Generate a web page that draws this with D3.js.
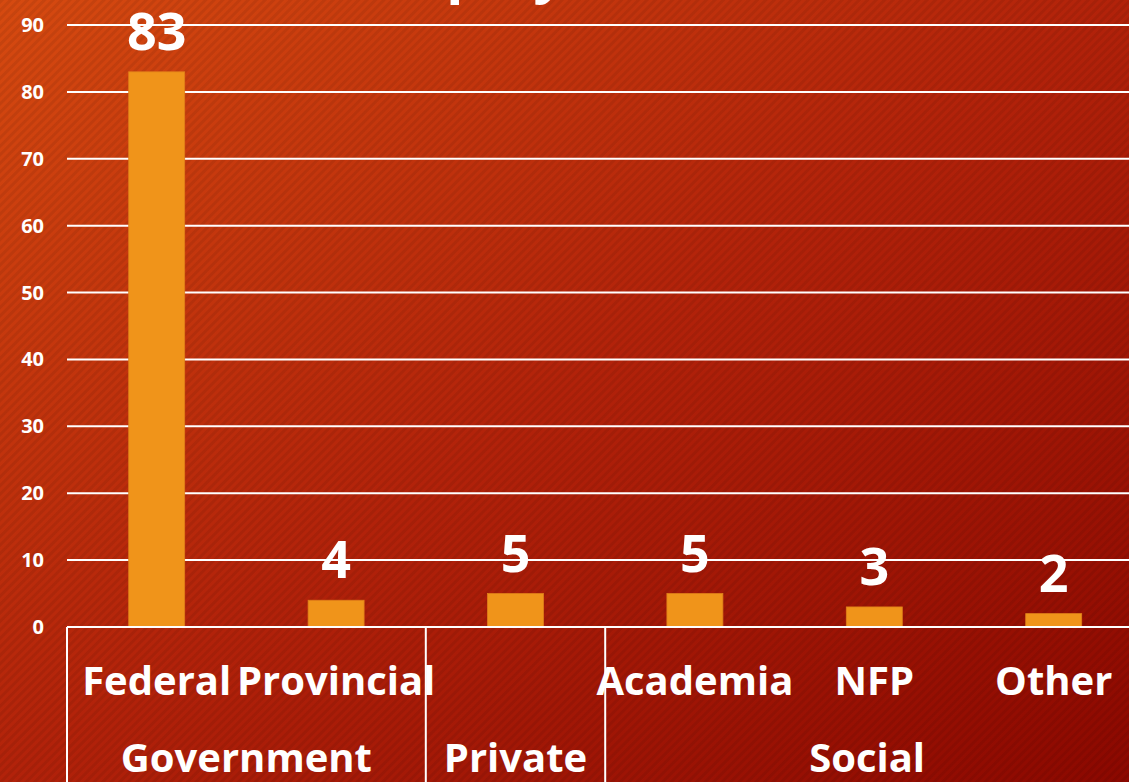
<!DOCTYPE html>
<html>
<head>
<meta charset="utf-8">
<script src="https://cdn.jsdelivr.net/npm/d3@7"></script>
<style>
  html, body { margin: 0; padding: 0; overflow: hidden; background: #b0200a; }
  svg { display: block; }
  text { font-family: "Open Sans", "DejaVu Sans", sans-serif; font-weight: bold; fill: #ffffff; }
</style>
</head>
<body>
<div id="chart"></div>
<script>
const width = 1129;
const height = 782;

// chart data
const categories = ["Federal", "Provincial", "", "Academia", "NFP", "Other"];
const groupOf = ["Government", "Government", "Private", "Social", "Social", "Social"];
const values = [83, 4, 5, 5, 3, 2];
const yTicks = [0, 10, 20, 30, 40, 50, 60, 70, 80, 90];
const titleText = "Employers";

const left = 67;
const step = 179.4;
const baseY = 627;

const svg = d3.select("#chart").append("svg")
    .attr("width", width)
    .attr("height", height);

const defs = svg.append("defs");

// background gradient, top-left light orange to dark red bottom-right
const grad = defs.append("linearGradient")
    .attr("id", "bg")
    .attr("x1", "0%").attr("y1", "0%")
    .attr("x2", "100%").attr("y2", "100%");
grad.append("stop").attr("offset", "0%").attr("stop-color", "#d64a10");
grad.append("stop").attr("offset", "50%").attr("stop-color", "#b2220a");
grad.append("stop").attr("offset", "100%").attr("stop-color", "#8c0800");

// fine diagonal stripes
const pat = defs.append("pattern")
    .attr("id", "stripes")
    .attr("patternUnits", "userSpaceOnUse")
    .attr("width", 6)
    .attr("height", 6)
    .attr("patternTransform", "rotate(45)");
pat.append("rect")
    .attr("x", 0).attr("y", 0)
    .attr("width", 3).attr("height", 6)
    .attr("fill", "rgba(0,0,0,0.07)");

svg.append("rect").attr("width", width).attr("height", height).attr("fill", "url(#bg)");
svg.append("rect").attr("width", width).attr("height", height).attr("fill", "url(#stripes)");

// scales
const x = d3.scaleBand()
    .domain(d3.range(categories.length))
    .range([left, left + step * categories.length])
    .padding(0);

const y = d3.scaleLinear()
    .domain([0, 90])
    .range([baseY, 25]);

const barW = x.bandwidth() * 0.312;

// title, mostly above the visible area
svg.append("text")
    .attr("x", 360)
    .attr("y", -8)
    .attr("font-size", 56)
    .text(titleText);

// gridlines
svg.append("g")
    .selectAll("line")
    .data(yTicks.filter(d => d > 0))
    .enter()
    .append("line")
    .attr("x1", left)
    .attr("x2", width)
    .attr("y1", d => y(d))
    .attr("y2", d => y(d))
    .attr("stroke", "#ffffff")
    .attr("stroke-width", 2);

// y tick labels
svg.append("g")
    .selectAll("text")
    .data(yTicks)
    .enter()
    .append("text")
    .attr("x", 44)
    .attr("y", d => y(d))
    .attr("dy", "0.35em")
    .attr("text-anchor", "end")
    .attr("font-size", 20)
    .text(d => d);

// bars
svg.append("g")
    .selectAll("rect")
    .data(values)
    .enter()
    .append("rect")
    .attr("x", (d, i) => x(i) + (x.bandwidth() - barW) / 2)
    .attr("y", d => y(d))
    .attr("width", barW)
    .attr("height", d => baseY - y(d))
    .attr("fill", "#f0941a")
    .attr("stroke", "#e0801a")
    .attr("stroke-width", 0.8);

// value labels
svg.append("g")
    .selectAll("text")
    .data(values)
    .enter()
    .append("text")
    .attr("x", (d, i) => x(i) + x.bandwidth() / 2)
    .attr("y", d => y(d) - 22)
    .attr("text-anchor", "middle")
    .attr("font-size", 52)
    .text(d => d);

// category axis: box lines
const axis = svg.append("g")
    .attr("stroke", "#ffffff")
    .attr("stroke-width", 2);
axis.append("line")
    .attr("x1", left).attr("x2", width)
    .attr("y1", baseY).attr("y2", baseY);

// group extents
const groups = [];
groupOf.forEach((g, i) => {
    const last = groups[groups.length - 1];
    if (last && last.name === g) last.end = i;
    else groups.push({name: g, start: i, end: i});
});

axis.selectAll("line.sep")
    .data(groups)
    .enter()
    .append("line")
    .attr("class", "sep")
    .attr("x1", d => x(d.start))
    .attr("x2", d => x(d.start))
    .attr("y1", baseY)
    .attr("y2", height);

// level 1 labels
svg.append("g")
    .selectAll("text")
    .data(categories)
    .enter()
    .append("text")
    .attr("x", (d, i) => x(i) + x.bandwidth() / 2)
    .attr("y", 695)
    .attr("text-anchor", "middle")
    .attr("font-size", 40)
    .text(d => d);

// level 2 labels
svg.append("g")
    .selectAll("text")
    .data(groups)
    .enter()
    .append("text")
    .attr("x", d => (x(d.start) + Math.min(width, x(d.end) + x.bandwidth())) / 2)
    .attr("y", 772)
    .attr("text-anchor", "middle")
    .attr("font-size", 40)
    .text(d => d.name);
</script>
</body>
</html>
